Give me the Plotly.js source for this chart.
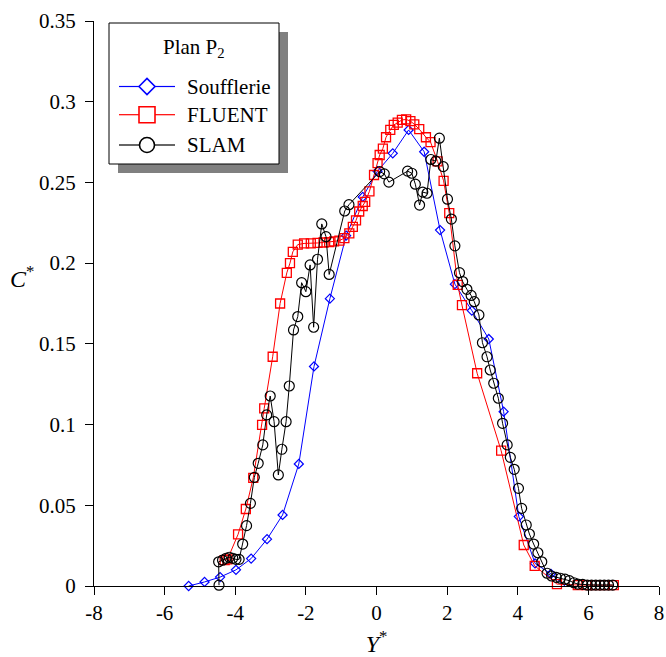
<!DOCTYPE html>
<html>
<head>
<meta charset="utf-8">
<script src="https://cdn.plot.ly/plotly-3.0.1.min.js"></script>
<style>html,body{margin:0;padding:0;background:#fff;}#chart{width:666px;height:657px;}</style>
</head>
<body>
<div id="chart"></div>
<script>
// Soufflerie (wind tunnel)
const soufX = [-5.32, -4.87, -4.43, -3.98, -3.55, -3.1, -2.66, -2.2, -1.77, -1.32, -0.86, -0.39, 0.03, 0.46, 0.91, 1.35, 1.8, 2.22, 2.7, 3.18, 3.6, 4.03, 4.49, 4.94, 5.39];
const soufY = [0, 0.0025, 0.0055, 0.01, 0.017, 0.029, 0.044, 0.0756, 0.136, 0.178, 0.217, 0.241, 0.257, 0.268, 0.2825, 0.269, 0.2205, 0.187, 0.1706, 0.153, 0.108, 0.043, 0.014, 0.0075, -0.001];

// FLUENT
const fluentX = [-4.3, -4.22, -3.92, -3.7, -3.49, -3.24, -3.18, -2.94, -2.73, -2.54, -2.45, -2.37, -2.23, -2.05, -1.86, -1.67, -1.5, -1.34, -1.2, -1.05, -0.91, -0.77, -0.67, -0.58, -0.49, -0.39, -0.32, -0.2, -0.07, 0.03, 0.09, 0.18, 0.27, 0.39, 0.49, 0.6, 0.72, 0.84, 0.96, 1.07, 1.21, 1.4, 1.53, 1.73, 1.9, 2.06, 2.3, 2.42, 2.85, 3.53, 4.17, 4.48, 5.11, 5.7, 5.95, 6.2, 6.45, 6.72];
const fluentY = [0.016, 0.0165, 0.032, 0.0477, 0.067, 0.0998, 0.11, 0.142, 0.175, 0.194, 0.2, 0.207, 0.2115, 0.2122, 0.2122, 0.2125, 0.2128, 0.213, 0.2135, 0.214, 0.2155, 0.2185, 0.2225, 0.2265, 0.232, 0.2354, 0.238, 0.2445, 0.2546, 0.262, 0.267, 0.271, 0.278, 0.2825, 0.2856, 0.287, 0.2887, 0.289, 0.288, 0.286, 0.283, 0.278, 0.275, 0.263, 0.251, 0.231, 0.1865, 0.174, 0.1318, 0.0838, 0.0254, 0.0125, 0.0012, 0.0006, 0.0005, 0.0005, 0.0005, 0.0005];

// SLAM
const slamX = [-4.46, -4.47, -4.36, -4.26, -4.17, -4.07, -3.98, -3.89, -3.79, -3.68, -3.57, -3.46, -3.35, -3.22, -3.11, -3.01, -2.9, -2.78, -2.68, -2.56, -2.47, -2.35, -2.23, -2.12, -2.0, -1.88, -1.78, -1.67, -1.55, -1.43, -1.34, -0.9, -0.78, 0.09, 0.22, 0.35, 0.88, 1.0, 1.1, 1.22, 1.31, 1.43, 1.54, 1.68, 1.78, 1.89, 2.01, 2.12, 2.22, 2.35, 2.44, 2.56, 2.68, 2.77, 2.9, 3.0, 3.13, 3.22, 3.32, 3.45, 3.57, 3.7, 3.79, 3.9, 4.02, 4.11, 4.24, 4.33, 4.45, 4.57, 4.68, 4.83, 4.96, 5.09, 5.21, 5.34, 5.46, 5.59, 5.7, 5.84, 5.97, 6.09, 6.21, 6.33, 6.45, 6.57, 6.69];
const slamY = [0.0005, 0.015, 0.016, 0.0172, 0.0178, 0.0172, 0.0165, 0.0165, 0.026, 0.0374, 0.0512, 0.0673, 0.076, 0.0874, 0.106, 0.1177, 0.1018, 0.0688, 0.0847, 0.1018, 0.1239, 0.1586, 0.1669, 0.1879, 0.1823, 0.1989, 0.1603, 0.2024, 0.2243, 0.2164, 0.193, 0.2323, 0.2362, 0.2567, 0.2553, 0.2502, 0.257, 0.2557, 0.2489, 0.236, 0.244, 0.2433, 0.2642, 0.2632, 0.2774, 0.2598, 0.2396, 0.2273, 0.2107, 0.1941, 0.1886, 0.1838, 0.18, 0.1761, 0.1679, 0.1507, 0.142, 0.1338, 0.1256, 0.1163, 0.1008, 0.0874, 0.0797, 0.0723, 0.0605, 0.0481, 0.0378, 0.0322, 0.026, 0.0206, 0.015, 0.0079, 0.0062, 0.0054, 0.0048, 0.0042, 0.0033, 0.002, 0.0012, 0.001, 0.0006, 0.0006, 0.0006, 0.0006, 0.0006, 0.0006, 0.0006];

const seriesNames = ['Soufflerie', 'FLUENT', 'SLAM'];
const legendTitle = 'Plan P<sub>2</sub>';
const xTickVals = [-8, -6, -4, -2, 0, 2, 4, 6, 8];
const xTickText = ['-8', '-6', '-4', '-2', '0', '2', '4', '6', '8'];
const yTickVals = [0, 0.05, 0.1, 0.15, 0.2, 0.25, 0.3, 0.35];
const yTickText = ['0', '0.05', '0.1', '0.15', '0.2', '0.25', '0.3', '0.35'];

const FONT = 'Liberation Serif';
const colors = ['#0000ff', '#ff0000', '#000000'];

const traces = [
  {x: soufX, y: soufY, name: seriesNames[0], type: 'scatter', mode: 'lines+markers',
   line: {color: colors[0], width: 1},
   marker: {symbol: 'diamond-open', size: 7, color: colors[0], line: {width: 1.2, color: colors[0]}},
   cliponaxis: false},
  {x: fluentX, y: fluentY, name: seriesNames[1], type: 'scatter', mode: 'lines+markers',
   line: {color: colors[1], width: 1},
   marker: {symbol: 'square-open', size: 9, color: colors[1], line: {width: 1.3, color: colors[1]}},
   cliponaxis: false},
  {x: slamX, y: slamY, name: seriesNames[2], type: 'scatter', mode: 'lines+markers',
   line: {color: colors[2], width: 1},
   marker: {symbol: 'circle-open', size: 10, color: colors[2], line: {width: 1.2, color: colors[2]}},
   cliponaxis: false}
];

// pixel -> paper helpers (plot area: x 94..659, y 21..586)
function px2x(p){ return (p - 94) / 565; }
function px2y(p){ return (586 - p) / 565; }

// manual legend (box with drop shadow)
const shapes = [];
const annotations = [];
shapes.push({type: 'rect', xref: 'paper', yref: 'paper', layer: 'above',
  x0: px2x(118), x1: px2x(288), y0: px2y(173), y1: px2y(32),
  fillcolor: '#808080', line: {width: 0}});
shapes.push({type: 'rect', xref: 'paper', yref: 'paper', layer: 'above',
  x0: px2x(109), x1: px2x(279), y0: px2y(164), y1: px2y(23),
  fillcolor: '#ffffff', line: {width: 1, color: '#000000'}});
annotations.push({text: legendTitle, xref: 'paper', yref: 'paper', x: px2x(194), y: px2y(48),
  xanchor: 'center', yanchor: 'middle', showarrow: false, font: {family: FONT, size: 21, color: '#000'}});
const rowY = [86.5, 114.7, 145];
const mx = 147, h = 8;
rowY.forEach((ry, i) => {
  shapes.push({type: 'line', xref: 'paper', yref: 'paper', layer: 'above',
    x0: px2x(119), x1: px2x(mx - h), y0: px2y(ry), y1: px2y(ry), line: {color: colors[i], width: 1.2}});
  shapes.push({type: 'line', xref: 'paper', yref: 'paper', layer: 'above',
    x0: px2x(mx + h), x1: px2x(175), y0: px2y(ry), y1: px2y(ry), line: {color: colors[i], width: 1.2}});
  annotations.push({text: seriesNames[i], xref: 'paper', yref: 'paper', x: px2x(185), y: px2y(ry),
    xanchor: 'left', yanchor: 'middle', showarrow: false, font: {family: FONT, size: 21, color: '#000'}});
});
// legend symbols
shapes.push({type: 'path', xref: 'paper', yref: 'paper', layer: 'above',
  path: 'M' + px2x(mx - h) + ',' + px2y(rowY[0]) + ' L' + px2x(mx) + ',' + px2y(rowY[0] - h) +
        ' L' + px2x(mx + h) + ',' + px2y(rowY[0]) + ' L' + px2x(mx) + ',' + px2y(rowY[0] + h) + ' Z',
  fillcolor: 'rgba(0,0,0,0)', line: {color: colors[0], width: 1.6}});
shapes.push({type: 'rect', xref: 'paper', yref: 'paper', layer: 'above',
  x0: px2x(mx - 8), x1: px2x(mx + 8), y0: px2y(rowY[1] + 8), y1: px2y(rowY[1] - 8),
  fillcolor: 'rgba(0,0,0,0)', line: {color: colors[1], width: 1.6}});
shapes.push({type: 'circle', xref: 'paper', yref: 'paper', layer: 'above',
  x0: px2x(mx - 7.5), x1: px2x(mx + 7.5), y0: px2y(rowY[2] + 7.5), y1: px2y(rowY[2] - 7.5),
  fillcolor: 'rgba(0,0,0,0)', line: {color: colors[2], width: 1.6}});

// y axis title (horizontal)
annotations.push({text: '<i>C</i><sup>*</sup>', xref: 'paper', yref: 'paper', x: px2x(22), y: px2y(277),
  xanchor: 'center', yanchor: 'middle', showarrow: false, font: {family: FONT, size: 24, color: '#000'}});

const layout = {
  width: 666, height: 657,
  margin: {l: 94, r: 7, t: 21, b: 71},
  paper_bgcolor: '#ffffff', plot_bgcolor: '#ffffff',
  font: {family: FONT, size: 21, color: '#000000'},
  showlegend: false,
  xaxis: {
    range: [-8, 8], tickmode: 'array', tickvals: xTickVals, ticktext: xTickText,
    ticks: 'outside', ticklen: 8, tickwidth: 1, tickcolor: '#000',
    showline: true, linecolor: '#000', linewidth: 1, showgrid: false, zeroline: false,
    tickfont: {family: FONT, size: 21, color: '#000'},
    title: {text: '<i>Y</i><sup>*</sup>', font: {family: FONT, size: 24, color: '#000'}, standoff: 14}
  },
  yaxis: {
    range: [0, 0.35], tickmode: 'array', tickvals: yTickVals, ticktext: yTickText,
    ticks: 'outside', ticklen: 8, tickwidth: 1, tickcolor: '#000',
    showline: true, linecolor: '#000', linewidth: 1, showgrid: false, zeroline: false,
    tickfont: {family: FONT, size: 21, color: '#000'}, ticklabelstandoff: 5
  },
  shapes: shapes,
  annotations: annotations
};

Plotly.newPlot('chart', traces, layout, {displayModeBar: false, staticPlot: true});
</script>
</body>
</html>
